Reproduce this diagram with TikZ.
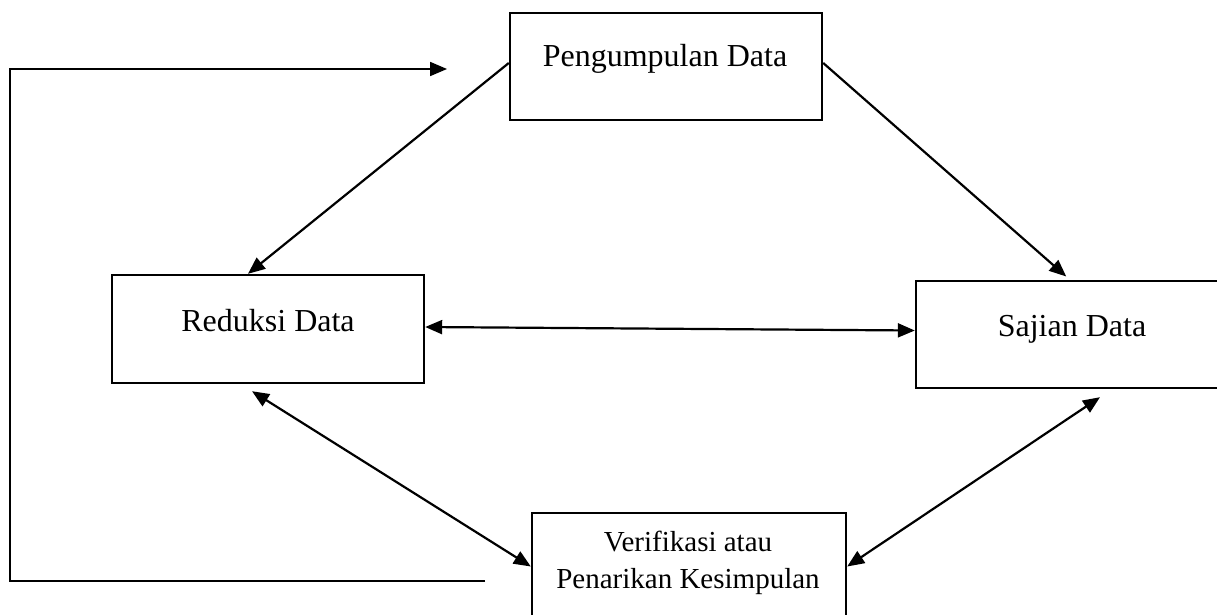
\documentclass[tikz,border=0pt]{standalone}
\usepackage{fontspec}
\setmainfont{Liberation Serif}
\usetikzlibrary{arrows.meta}
\begin{document}
\begin{tikzpicture}[x=1pt,y=-1pt,
  box/.style={draw=black,line width=2.4pt,rectangle,inner sep=0pt},
  txt/.style={inner sep=0pt,anchor=base,font=\fontsize{32}{38}\selectfont},
  stxt/.style={inner sep=0pt,anchor=base,font=\fontsize{29}{37}\selectfont},
  conn/.style={line width=2.2pt,-{Triangle[length=17pt,width=14pt]}},
  bconn/.style={line width=2.2pt,{Triangle[length=17pt,width=14pt]}-{Triangle[length=17pt,width=14pt]}},
  loopline/.style={line width=1.8pt,line join=miter,-{Triangle[length=17pt,width=14pt]}}]
\useasboundingbox (0,0) rectangle (1217,615);
\clip (0,0) rectangle (1217,615);
% boxes
\node[box,minimum width=312pt,minimum height=107pt] (peng) at (666,66.5) {};
\node[box,minimum width=312pt,minimum height=108pt] (red) at (268,329) {};
\node[box,minimum width=340pt,minimum height=107pt] (saj) at (1086,334.5) {};
\node[box,minimum width=314pt,minimum height=107pt] (ver) at (689,566.5) {};
% texts
\node[txt] (tpeng) at (665,67) {Pengumpulan Data};
\node[txt] (tred) at (268,331) {Reduksi Data};
\node[txt] (tsaj) at (1072,336) {Sajian Data};
\node[stxt] (tver1) at (688,551) {Verifikasi atau};
\node[stxt] (tver2) at (688,588) {Penarikan Kesimpulan};
% connectors
\draw[conn] ([yshift=3.5pt]peng.west) -- ([xshift=-20pt]red.north);
\draw[conn,shorten >=5pt] ([yshift=3.5pt]peng.east) -- ([xshift=-16pt]saj.north);
\draw[bconn] ([yshift=2pt]red.east) -- ([yshift=4pt]saj.west);
\draw[bconn] ([xshift=-16pt,yshift=-7pt]red.south) -- (ver.west);
\draw[bconn] ([xshift=14pt,yshift=-8pt]saj.south) -- (ver.east);
% feedback loop
\coordinate (loopS) at (485,581);
\coordinate (loopBL) at (10,581);
\coordinate (loopTL) at (10,69);
\coordinate (loopE) at (447,69);
\draw[loopline] (loopS) -- (loopBL) -- (loopTL) -- (loopE);
\end{tikzpicture}
\end{document}
